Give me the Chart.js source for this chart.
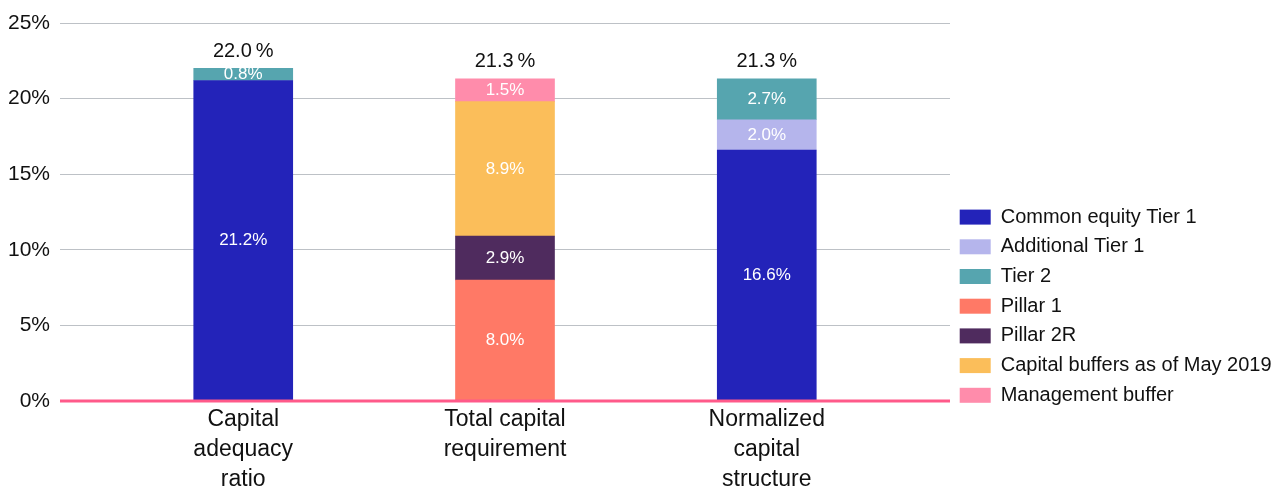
<!DOCTYPE html>
<html>
<head>
<meta charset="utf-8">
<title>Capital structure</title>
<script src="https://cdn.jsdelivr.net/npm/chart.js@4/dist/chart.umd.min.js"></script>
<style>
    html, body { margin: 0; padding: 0; background: #ffffff; }
    #wrap { width: 1286px; height: 487px; position: relative; }
</style>
</head>
<body>
<div id="wrap"><canvas id="capitalChart"></canvas></div>
<script>
// Categories (x axis) and tick labels
const categories = [
    ['Capital', 'adequacy', 'ratio'],
    ['Total capital', 'requirement'],
    ['Normalized', 'capital', 'structure']
];
const yTicks = [0, 5, 10, 15, 20, 25];

// Series values per category, null where a component is not part of the bar
const commonEquityTier1 = [21.2, null, 16.6];
const additionalTier1   = [null, null, 2.0];
const tier2             = [0.8, null, 2.7];
const pillar1           = [null, 8.0, null];
const pillar2R          = [null, 2.9, null];
const capitalBuffers    = [null, 8.9, null];
const managementBuffer  = [null, 1.5, null];

const FONT = "'Liberation Sans', Arial, sans-serif";
const LEGEND_WIDTH = 336;

function toPoints(values) {
    return values
        .map((v, i) => (v === null ? null : { x: i, y: v }))
        .filter(p => p !== null);
}

const series = [
    { label: 'Common equity Tier 1', values: commonEquityTier1, color: '#2323b9' },
    { label: 'Additional Tier 1', values: additionalTier1, color: '#b5b5ec' },
    { label: 'Tier 2', values: tier2, color: '#56a5af' },
    { label: 'Pillar 1', values: pillar1, color: '#ff7966' },
    { label: 'Pillar 2R', values: pillar2R, color: '#4f2b5e' },
    { label: 'Capital buffers as of May 2019', values: capitalBuffers, color: '#fbbe5a' },
    { label: 'Management buffer', values: managementBuffer, color: '#ff8cab' }
];

// Per-bar totals, used for the labels above each stack
const totals = categories.map((_, i) =>
    series.reduce((sum, s) => sum + (s.values[i] || 0), 0)
);

/**
 * Draws the segment value inside each bar and the stack total above it
 */
const valueLabels = {
    id: 'valueLabels',
    afterDatasetsDraw(chart) {
        const ctx = chart.ctx;
        ctx.save();
        ctx.textAlign = 'center';
        ctx.textBaseline = 'middle';

        chart.data.datasets.forEach((ds, di) => {
            const meta = chart.getDatasetMeta(di);
            meta.data.forEach((bar, j) => {
                const { x, y, base } = bar.getProps(['x', 'y', 'base'], true);
                ctx.font = '17px ' + FONT;
                ctx.fillStyle = '#ffffff';
                ctx.fillText(ds.data[j].y.toFixed(1) + '%', x, (y + base) / 2);
            });
        });

        // Zero line on top of the bar bases
        const yScale = chart.scales.y;
        const area = chart.chartArea;
        const y0 = yScale.getPixelForValue(0);
        ctx.strokeStyle = '#ff5a8a';
        ctx.lineWidth = 3;
        ctx.beginPath();
        ctx.moveTo(area.left, y0);
        ctx.lineTo(area.right, y0);
        ctx.stroke();

        const xScale = chart.scales.x;
        ctx.font = '20px ' + FONT;
        ctx.fillStyle = '#111111';
        totals.forEach((t, i) => {
            const px = xScale.getPixelForValue(i);
            const py = yScale.getPixelForValue(t) - 17;
            ctx.fillText(t.toFixed(1) + '\u2009%', px, py);
        });
        ctx.restore();
    }
};

// The layout caps side boxes at a quarter of the width; give the legend
// a fixed column width instead, and sit it lower on the right.
const legendTweaks = {
    id: 'legendTweaks',
    beforeLayout(chart) {
        const lg = chart.legend;
        if (!lg || lg._wide) return;
        const fit = lg.fit;
        lg.fit = function () {
            this.maxWidth = Math.max(this.maxWidth, LEGEND_WIDTH);
            fit.call(this);
            this.width = LEGEND_WIDTH;
        };
        lg._wide = true;
    },
    afterLayout(chart) {
        const lg = chart.legend;
        if (!lg) return;
        lg.top += 14;
        lg.bottom += 14;
    }
};

const ctx = document.getElementById('capitalChart').getContext('2d');
new Chart(ctx, {
    type: 'bar',
    data: {
        datasets: series.map(s => ({
            label: s.label,
            data: toPoints(s.values),
            backgroundColor: s.color,
            borderWidth: 0,
            barThickness: 99
        }))
    },
    options: {
        responsive: true,
        maintainAspectRatio: false,
        animation: false,
        layout: { padding: { top: 23, left: 0, right: 0, bottom: 0 } },
        plugins: {
            tooltip: { enabled: false },
            legend: {
                position: 'right',
                align: 'end',
                fullSize: false,
                labels: {
                    font: { family: FONT, size: 20 },
                    color: '#111111',
                    boxWidth: 31,
                    boxHeight: 15,
                    padding: 9.7
                }
            }
        },
        scales: {
            x: {
                type: 'linear',
                stacked: true,
                offset: false,
                min: -0.7,
                max: 2.7,
                grid: { display: false, drawTicks: false },
                border: { display: false },
                afterBuildTicks: (scale) => {
                    scale.ticks = categories.map((_, i) => ({ value: i }));
                },
                afterFit: (scale) => { scale.height = 86; },
                ticks: {
                    autoSkip: false,
                    maxRotation: 0,
                    padding: 4,
                    color: '#111111',
                    font: { family: FONT, size: 23, lineHeight: 1.3 },
                    callback: (value) => categories[value]
                }
            },
            y: {
                stacked: true,
                min: 0,
                max: 25,
                afterBuildTicks: (scale) => {
                    scale.ticks = yTicks.map(v => ({ value: v }));
                },
                afterFit: (scale) => { scale.width = 60; },
                grid: {
                    color: (c) => (c.tick && c.tick.value === 0 ? 'rgba(0,0,0,0)' : '#bdc1c6'),
                    lineWidth: 1,
                    drawTicks: false
                },
                border: { display: false },
                ticks: {
                    padding: 10,
                    color: '#111111',
                    font: { family: FONT, size: 21 },
                    callback: (value) => value + '%'
                }
            }
        }
    },
    plugins: [valueLabels, legendTweaks]
});
</script>
</body>
</html>
